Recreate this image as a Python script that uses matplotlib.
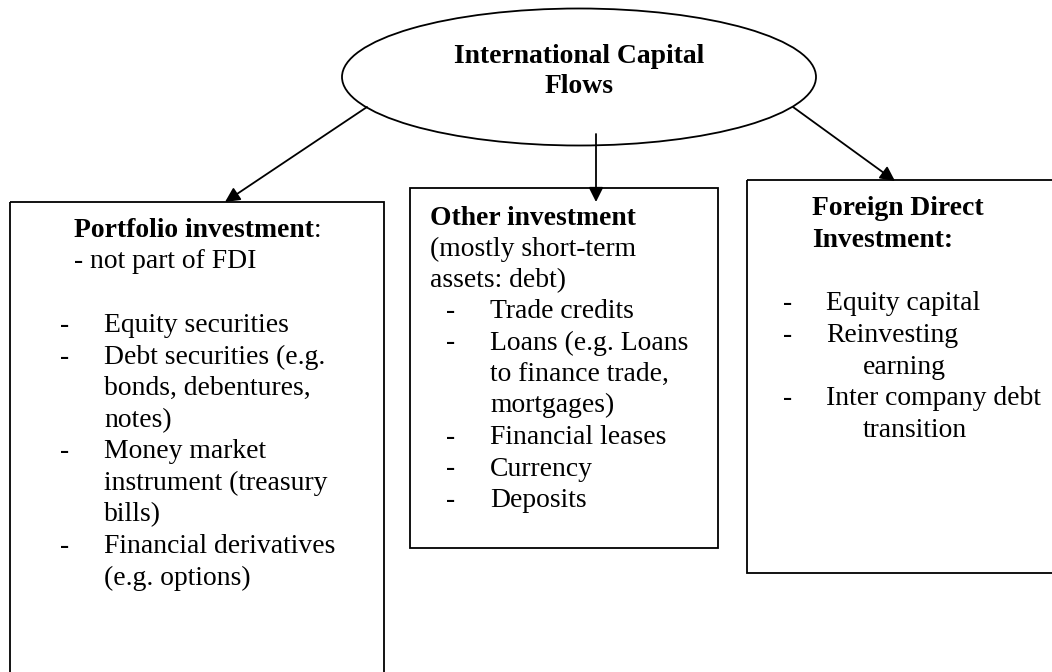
import matplotlib
matplotlib.use("Agg")
import matplotlib.pyplot as plt
from matplotlib.patches import Ellipse, Rectangle

plt.rcParams['font.family'] = ['Liberation Serif', 'DejaVu Serif']

# text content of the diagram
root_lines = ["International Capital", "Flows"]

portfolio_title = "Portfolio investment"
portfolio_note = "- not part of FDI"
portfolio_items = [("Equity securities",),
                   ("Debt securities (e.g.", "bonds, debentures,", "notes)"),
                   ("Money market", "instrument (treasury", "bills)"),
                   ("Financial derivatives", "(e.g. options)")]

other_title = "Other investment"
other_note = ["(mostly short-term", "assets: debt)"]
other_items = [("Trade credits",),
               ("Loans (e.g. Loans", "to finance trade,", "mortgages)"),
               ("Financial leases",),
               ("Currency",),
               ("Deposits",)]

fdi_title = ["Foreign Direct", "Investment:"]
fdi_items = [("Equity capital",),
             ("Reinvesting", "earning"),
             ("Inter company debt", "transition")]

FS = 19.9
LW = 1.3

fig = plt.figure(figsize=(10.52, 6.72), dpi=100)
ax = fig.add_axes([0, 0, 1, 1])
ax.set_xlim(0, 1052)
ax.set_ylim(672, 0)
ax.axis('off')

# shapes
ax.add_patch(Ellipse((579, 77), 474, 137, fill=False, lw=LW, ec='black'))
ax.add_patch(Rectangle((10, 202), 374, 500, fill=False, lw=LW, ec='black'))
ax.add_patch(Rectangle((410, 188), 308, 360, fill=False, lw=LW, ec='black'))
ax.add_patch(Rectangle((747, 180), 340, 393, fill=False, lw=LW, ec='black'))

# arrows from the ellipse to each box
arrows = [((367, 107), (225, 202)),
          ((596, 134), (596, 202)),
          ((793, 107), (895, 181))]
for start, end in arrows:
    ax.annotate("", xy=end, xytext=start,
                arrowprops=dict(arrowstyle='-|>', color='black', lw=LW,
                                mutation_scale=22, shrinkA=0, shrinkB=0))

# ellipse title
for i, s in enumerate(root_lines):
    ax.text(579, 63 + 30 * i, s, ha='center', va='baseline',
            fontsize=FS, fontweight='bold')


def bullets(items, y0, x_dash, x_text, x_cont, step):
    y = y0
    for item in items:
        ax.text(x_dash, y, "-", ha='left', va='baseline', fontsize=FS)
        for j, s in enumerate(item):
            ax.text(x_text if j == 0 else x_cont, y, s, ha='left',
                    va='baseline', fontsize=FS)
            y += step
    return y


# portfolio box
t = ax.text(74, 237, portfolio_title, ha='left', va='baseline',
            fontsize=FS, fontweight='bold')
ax.annotate(":", xy=(1, 0), xycoords=t, ha='left', va='bottom', fontsize=FS)
ax.text(74, 268, portfolio_note, ha='left', va='baseline', fontsize=FS)
bullets(portfolio_items, 332, 60, 104, 104, 31.6)

# other investment box
ax.text(430, 225, other_title, ha='left', va='baseline',
        fontsize=FS, fontweight='bold')
for i, s in enumerate(other_note):
    ax.text(430, 256 + 31.5 * i, s, ha='left', va='baseline', fontsize=FS)
bullets(other_items, 318, 446, 490, 490, 31.5)

# FDI box
for i, s in enumerate(fdi_title):
    ax.text(812, 215 + 32 * i, s, ha='left', va='baseline',
            fontsize=FS, fontweight='bold')
bullets(fdi_items, 310, 783, 826, 863, 31.8)

fig.savefig("out.png", dpi=100)
